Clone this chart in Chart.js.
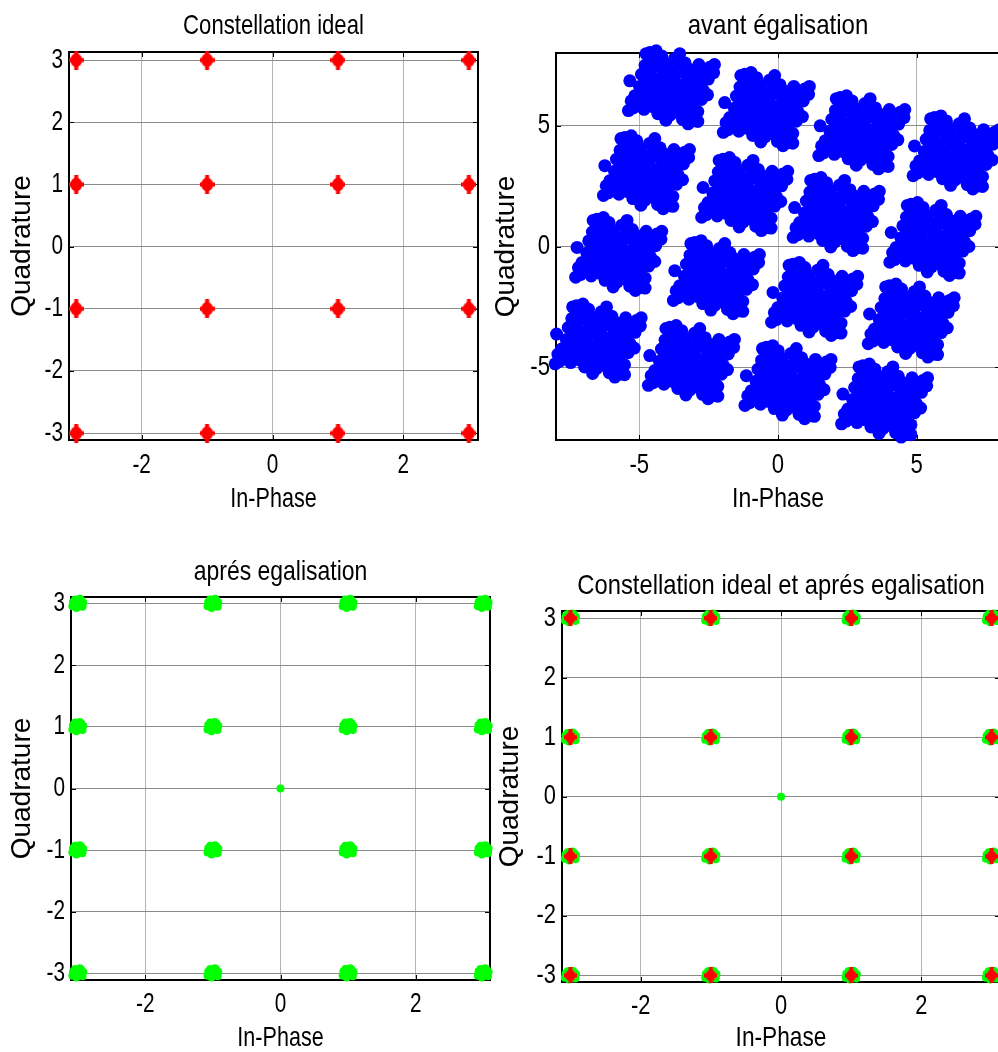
<!DOCTYPE html>
<html>
<head>
<meta charset="utf-8">
<script src="https://cdn.jsdelivr.net/npm/chart.js@4.4.1/dist/chart.umd.min.js"></script>
<style>
  html, body { margin: 0; padding: 0; background: #fff; overflow: hidden; }
  #page { position: relative; width: 998px; height: 1052px; overflow: hidden; }
  .plot { position: absolute; }
</style>
</head>
<body>
<div id="page">
  <div class="plot" style="left:0px;top:0px"><canvas id="c1" width="500" height="530"></canvas></div>
  <div class="plot" style="left:488px;top:0px"><canvas id="c2" width="522" height="530"></canvas></div>
  <div class="plot" style="left:0px;top:550px"><canvas id="c3" width="500" height="502"></canvas></div>
  <div class="plot" style="left:488px;top:550px"><canvas id="c4" width="522" height="502"></canvas></div>
</div>
<script>
// 16-QAM reference levels (I and Q)
var idealI = [-3, -1, 1, 3];
var idealQ = [-3, -1, 1, 3];

// centres of the received clouds before equalisation
var avantI = [-3.84, -0.42, 3.02, 6.42, -4.74, -1.20, 2.10, 5.58, -5.74, -2.22, 1.32, 4.80, -6.48, -3.12, 0.36, 3.84];
var avantQ = [6.57, 5.67, 4.71, 3.88, 3.06, 2.16, 1.33, 0.30, -0.32, -1.28, -2.18, -3.07, -3.90, -4.79, -5.62, -6.38];

// spread of each cloud around its centre (before equalisation)
var cloudI = [-0.78, -0.35, 0.11, 0.49, 0.99, 1.38, -0.95, -0.46, -0.07, 0.43, 0.82, 1.33,
  -1.08, -0.58, -0.13, 0.26, 0.76, 1.14, -1.15, -0.76, -0.31, 0.19, 0.58, 1.08,
  -1.32, -0.82, -0.42, 0.07, 0.46, 0.95, -1.38, -0.99, -0.49, -0.05, 0.40, 0.78,
  -1.50, -0.55, 1.52, 0.60, 0.30, -1.45, 1.30, -0.20,
  -0.64, -0.21, 0.26, 0.67, 1.14, -0.78, -0.31, 0.10, 0.58, 1.01,
  -0.90, -0.43, 0.02, 0.45, 0.87, -1.00, -0.58, -0.11, 0.33, 0.76,
  -1.13, -0.67, -0.25, 0.22, 0.64,
  -0.92, 1.55, -1.55, 0.95];
var cloudQ = [1.45, 1.31, 1.20, 1.02, 0.95, 0.84, 0.92, 0.88, 0.70, 0.64, 0.47, 0.35,
  0.55, 0.37, 0.31, 0.13, 0.07, -0.10, 0.05, -0.02, -0.19, -0.25, -0.43, -0.49,
  -0.34, -0.52, -0.58, -0.76, -0.82, -0.99, -0.84, -0.90, -1.08, -1.14, -1.32, -1.38,
  0.28, 1.52, 0.62, -1.50, 1.40, -0.55, -0.30, -1.35,
  1.15, 0.99, 0.91, 0.75, 0.66, 0.70, 0.55, 0.46, 0.31, 0.22,
  0.25, 0.10, -0.03, -0.10, -0.25, -0.19, -0.34, -0.42, -0.58, -0.70,
  -0.64, -0.79, -0.87, -1.02, -1.11,
  1.40, 0.95, -0.95, -1.40];

// residual spread after equalisation
var apresI = [0, 0.08, -0.07, 0.03, -0.02, 0.07, -0.08, 0.05, -0.04];
var apresQ = [0, 0.02, 0.03, 0.08, -0.07, -0.05, -0.04, 0.06, 0.07];
// lone sample at the origin
var originI = [0];
var originQ = [0];

var tick3 = [-2, 0, 2];
var tickQ3 = [-3, -2, -1, 0, 1, 2, 3];
var tick8 = [-5, 0, 5];

function idealPoints() {
  var pts = [];
  idealQ.forEach(function (q) {
    idealI.forEach(function (i) { pts.push({ x: i, y: q }); });
  });
  return pts;
}

function avantPoints() {
  var pts = [];
  avantI.forEach(function (ci, k) {
    cloudI.forEach(function (di, j) {
      pts.push({ x: ci + di, y: avantQ[k] + cloudQ[j] });
    });
  });
  return pts;
}

function apresPoints() {
  var pts = [];
  idealPoints().forEach(function (p) {
    apresI.forEach(function (di, j) {
      pts.push({ x: p.x + di, y: p.y + apresQ[j] });
    });
  });
  originI.forEach(function (v, j) { pts.push({ x: v, y: originQ[j] }); });
  return pts;
}

// red '*' marker, a bit taller than wide like the matlab export
function redMarker(w, h) {
  var c = document.createElement('canvas');
  c.width = w; c.height = h;
  var g = c.getContext('2d');
  g.fillStyle = '#ff0000';
  g.beginPath();
  g.moveTo(w / 2, 0); g.lineTo(w * 0.9, h / 2); g.lineTo(w / 2, h); g.lineTo(w * 0.1, h / 2);
  g.closePath();
  g.fill();
  g.fillRect(w / 2 - 2, 0, 4, h);
  g.fillRect(0, h / 2 - 2, w, 4);
  g.beginPath();
  g.ellipse(w / 2, h / 2, w * 0.4, h * 0.36, 0, 0, 2 * Math.PI);
  g.fill();
  return c;
}

var sans = "'Liberation Sans', Arial, sans-serif";

// draw horizontal text condensed, leave rotated text alone
var narrowText = {
  id: 'narrowText',
  beforeDraw: function (chart) {
    var ctx = chart.ctx;
    if (ctx._narrow) return;
    var fill = ctx.fillText;
    ctx.fillText = function (text, x, y, maxWidth) {
      var m = this.getTransform();
      if (m.b !== 0 || m.c !== 0) {
        return maxWidth === undefined ? fill.call(this, text, x, y) : fill.call(this, text, x, y, maxWidth);
      }
      var k = text === this._titleText ? this._titleSqueeze : this._squeeze;
      this.save();
      this.translate(x, y);
      this.scale(k, 1);
      if (maxWidth === undefined) fill.call(this, text, 0, 0);
      else fill.call(this, text, 0, 0, maxWidth / k);
      this.restore();
    };
    ctx._narrow = true;
  }
};

// axes box with inward tick marks, matlab style
var boxPlugin = {
  id: 'box',
  beforeDatasetsDraw: function (chart) {
    var a = chart.chartArea, ctx = chart.ctx;
    var xs = chart.scales.x, ys = chart.scales.y;
    ctx.save();
    ctx.strokeStyle = '#000';
    ctx.lineWidth = 1;
    ctx.beginPath();
    xs.ticks.forEach(function (t) {
      var px = Math.round(xs.getPixelForValue(t.value)) + 0.5;
      ctx.moveTo(px, a.bottom); ctx.lineTo(px, a.bottom - 5);
      ctx.moveTo(px, a.top); ctx.lineTo(px, a.top + 5);
    });
    ys.ticks.forEach(function (t) {
      var py = Math.round(ys.getPixelForValue(t.value)) + 0.5;
      ctx.moveTo(a.left, py); ctx.lineTo(a.left + 5, py);
      ctx.moveTo(a.right, py); ctx.lineTo(a.right - 5, py);
    });
    ctx.stroke();
    ctx.lineWidth = 2;
    ctx.strokeRect(a.left, a.top, a.right - a.left, a.bottom - a.top);
    ctx.restore();
  }
};

function makeChart(id, datasets, opt) {
  var canvas = document.getElementById(id);
  var c2d = canvas.getContext('2d');
  c2d._titleText = opt.title;
  c2d._titleSqueeze = opt.titleSqueeze;
  c2d._squeeze = opt.squeeze;
  return new Chart(canvas, {
    type: 'scatter',
    data: { datasets: datasets },
    plugins: [narrowText, boxPlugin],
    options: {
      responsive: false,
      animation: false,
      events: [],
      layout: { padding: { right: opt.padRight, top: 0, bottom: 0, left: 0 } },
      plugins: {
        legend: { display: false },
        tooltip: { enabled: false },
        title: {
          display: true,
          text: opt.title,
          fullSize: false,
          color: '#000',
          font: { family: sans, size: 28, weight: 'normal', lineHeight: 1 },
          padding: { top: opt.titleTop, bottom: opt.titleBottom }
        }
      },
      scales: {
        x: {
          type: 'linear',
          min: opt.xRange[0], max: opt.xRange[1],
          afterBuildTicks: function (s) { s.ticks = opt.xTicks.map(function (v) { return { value: v }; }); },
          afterFit: function (s) { s.height = opt.xHeight; },
          border: { display: false },
          grid: { color: '#b4b4b4', lineWidth: 1, drawTicks: false },
          ticks: {
            color: '#000', padding: opt.xTickPad,
            font: { family: sans, size: 27 },
            callback: function (v) { return String(v); }
          },
          title: {
            display: true, text: 'In-Phase', color: '#000',
            font: { family: sans, size: 28, lineHeight: 1 },
            padding: { top: 0, bottom: opt.xTitlePad }
          }
        },
        y: {
          type: 'linear',
          min: opt.yRange[0], max: opt.yRange[1],
          afterBuildTicks: function (s) { s.ticks = opt.yTicks.map(function (v) { return { value: v }; }); },
          afterFit: function (s) { s.width = opt.yWidth; },
          border: { display: false },
          grid: { color: '#8a8a8a', lineWidth: 1, drawTicks: false, borderDash: [2, 1] },
          ticks: {
            color: '#000', padding: 6,
            font: { family: sans, size: 27 },
            callback: function (v) { return String(v); }
          },
          title: {
            display: true, text: 'Quadrature', color: '#000',
            font: { family: sans, size: 28, lineHeight: 1 },
            padding: { top: opt.yTitlePad, bottom: 0 }
          }
        }
      }
    }
  });
}

makeChart('c1', [{
  data: idealPoints(),
  pointStyle: redMarker(15, 19), radius: 8, clip: false
}], {
  title: 'Constellation ideal', xRange: [-3.11, 3.14], yRange: [-3.11, 3.13],
  xTicks: tick3, yTicks: tickQ3, titleSqueeze: 0.79, squeeze: 0.77,
  padRight: 22, titleTop: 12, titleBottom: 12, xHeight: 90, yWidth: 69,
  xTickPad: 9, xTitlePad: 17, yTitlePad: 8
});

makeChart('c2', [{
  data: avantPoints(),
  pointStyle: 'circle', radius: 6.5, borderWidth: 0,
  backgroundColor: '#0000ff', clip: false
}], {
  title: 'avant égalisation', xRange: [-8, 8], yRange: [-8, 8],
  xTicks: tick8, yTicks: tick8, titleSqueeze: 0.86, squeeze: 0.82,
  padRight: 10, titleTop: 12, titleBottom: 13, xHeight: 90, yWidth: 68,
  xTickPad: 9, xTitlePad: 17, yTitlePad: 4
});

var greenApres = {
  data: apresPoints(),
  pointStyle: 'circle', radius: 4, borderWidth: 0,
  backgroundColor: '#00ff00', clip: false
};

makeChart('c3', [greenApres], {
  title: 'aprés egalisation', xRange: [-3.1, 3.1], yRange: [-3.11, 3.11],
  xTicks: tick3, yTicks: tickQ3, titleSqueeze: 0.82, squeeze: 0.77,
  padRight: 10, titleTop: 8, titleBottom: 11, xHeight: 72, yWidth: 71,
  xTickPad: 8, xTitlePad: 0, yTitlePad: 8
});

makeChart('c4', [
  { data: idealPoints(), pointStyle: redMarker(13, 16), radius: 7, clip: false },
  greenApres
], {
  title: 'Constellation ideal et aprés egalisation', xRange: [-3.12, 3.12], yRange: [-3.11, 3.12],
  xTicks: tick3, yTicks: tickQ3, titleSqueeze: 0.85, squeeze: 0.81,
  padRight: 10, titleTop: 22, titleBottom: 11, xHeight: 70, yWidth: 74,
  xTickPad: 8, xTitlePad: 0, yTitlePad: 8
});
</script>
</body>
</html>
